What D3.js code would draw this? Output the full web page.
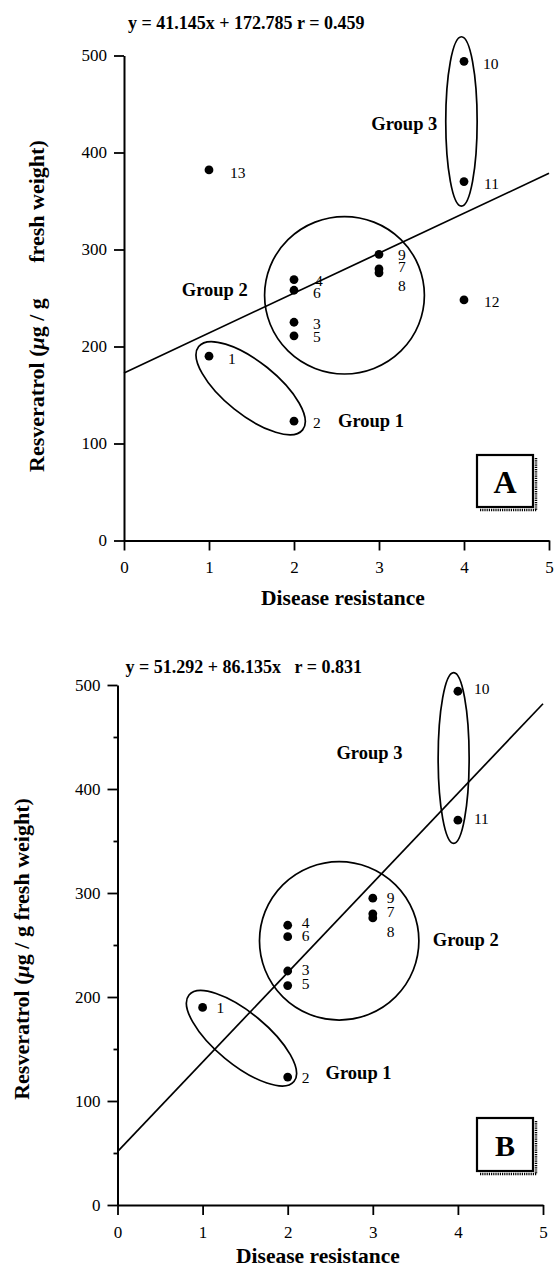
<!DOCTYPE html>
<html><head><meta charset="utf-8">
<script src="https://cdn.jsdelivr.net/npm/d3@7"></script>
<style>body{margin:0;background:#fff}</style>
</head><body>
<svg id="c" width="559" height="1268"></svg>
<script>
// ---- data ----
const cultivars   = [1,2,3,4,5,6,7,8,9,10,11,12,13];
const resistance  = [1,2,2,2,2,2,3,3,3,4,4,4,1];
const resveratrol = [190,123,225,269,211,258,280,276,295,494,370,248,382];
const cultivarsB  = [1,2,3,4,5,6,7,8,9,10,11];
const xTickValues = [0,1,2,3,4,5];
const yTickValues = [0,100,200,300,400,500];
const yMinorTicksB = [50,150,250,350,450];
const fitA = {slope:41.145, intercept:172.785};
const fitB = {slope:86.135, intercept:51.292};
const titleA = "y = 41.145x + 172.785 r = 0.459";
const titleB = "y = 51.292 + 86.135x   r = 0.831";
const groupNames = ["Group 1","Group 2","Group 3"];
const xTitle = "Disease resistance";

// ---- layout ----
const FONT = "'Liberation Serif','Times New Roman',serif";
const svg = d3.select("#c");

const panels = [
  {
    id:"A", members:cultivars, fit:fitA, title:titleA, titlePos:[128,23],
    x:d3.scaleLinear([0,5],[124,549]), y:d3.scaleLinear([0,500],[540.5,55.5]),
    minor:false, pad:10, xTitlePos:[343,598],
    yTitle:[{t:["Resveratrol (","μ","g / g"],cy:385},{t:["fresh weight)"],cy:201.5}], yTitleX:44,
    labelDx:19,
    labelDy:{1:2,2:1,3:1,4:1,5:1,6:2,7:-2,8:13,9:0,10:2,11:2,12:2,13:3},
    labelDxExtra:{4:2,11:1,12:1,13:2},
    ellipses:[
      {cx:1.49, cy:157, a:66.6, b:26.5, rot:38.7},
      {cx:2.594, cy:252.8, a:79.9, b:78.7, rot:0},
      {cx:3.97, cy:432, a:15.7, b:84.7, rot:0}
    ],
    groupLabels:[[2.906,123.5],[1.068,258.2],[3.298,429.4]],
    box:{x:477,y:455,w:56,h:52,fs:32}
  },
  {
    id:"B", members:cultivarsB, fit:fitB, title:titleB, titlePos:[125.5,667],
    x:d3.scaleLinear([0,5],[117.5,543]), y:d3.scaleLinear([0,500],[1205,685]),
    minor:true, pad:11, xTitlePos:[318,1256],
    yTitle:[{t:["Resveratrol (","μ","g / g fresh weight)"],cy:949}], yTitleX:29,
    labelDx:14,
    labelDy:{1:0,2:0,3:-2,4:-3,5:-2,6:-1,7:-2,8:14,9:-1,10:-3,11:-2},
    labelDxExtra:{10:2,11:2},
    ellipses:[
      {cx:1.457, cy:160.3, a:68, b:26, rot:39.5},
      {cx:2.605, cy:254, a:79.7, b:79.2, rot:0},
      {cx:3.95, cy:429.8, a:15.5, b:85.3, rot:0}
    ],
    groupLabels:[[2.833,126.6],[4.093,254.8],[2.961,434.9]],
    box:{x:477,y:1118,w:56,h:53,fs:30}
  }
];

panels.forEach(p => {
  const g = svg.append("g");
  const x = p.x, y = p.y;

  // axes
  g.append("g").attr("transform",`translate(${x(0)},0)`)
    .call(d3.axisLeft(y).tickValues(yTickValues).tickFormat(d3.format("d"))
      .tickSize(10).tickSizeOuter(0).tickPadding(7));
  g.append("g").attr("transform",`translate(0,${y(0)})`)
    .call(d3.axisBottom(x).tickValues(xTickValues).tickFormat(d3.format("d"))
      .tickSize(10).tickSizeOuter(0).tickPadding(p.pad));
  if (p.minor) {
    g.append("g").attr("transform",`translate(${x(0)},0)`)
      .call(d3.axisLeft(y).tickValues(yMinorTicksB).tickSize(4).tickFormat(""))
      .call(s=>s.select(".domain").remove());
  }
  g.selectAll(".domain").attr("stroke","#000").attr("stroke-width",2);
  g.selectAll(".tick line").attr("stroke","#000").attr("stroke-width",1.8);
  g.selectAll(".tick text").attr("font-family",FONT).attr("font-size",17).attr("fill","#000");

  // title
  g.append("text").attr("x",p.titlePos[0]).attr("y",p.titlePos[1])
    .attr("dominant-baseline","central").attr("font-family",FONT).attr("font-weight","bold")
    .attr("font-size",18).style("white-space","pre").attr("xml:space","preserve").text(p.title);

  // x title
  g.append("text").attr("x",p.xTitlePos[0]).attr("y",p.xTitlePos[1])
    .attr("text-anchor","middle").attr("dominant-baseline","central")
    .attr("font-family",FONT).attr("font-weight","bold").attr("font-size",21.5).text(xTitle);

  // y title
  p.yTitle.forEach(piece => {
    const t = g.append("text").attr("transform",`translate(${p.yTitleX},${piece.cy}) rotate(-90)`)
      .attr("text-anchor","middle").attr("font-family",FONT).attr("font-weight","bold").attr("font-size",22);
    piece.t.forEach(s => {
      const ts = t.append("tspan").text(s);
      if (s === "μ") ts.attr("font-style","italic");
    });
  });

  // regression line
  const line = d3.line().x(d=>x(d)).y(d=>y(p.fit.intercept + p.fit.slope*d));
  g.append("path").datum([0,5]).attr("d",line).attr("fill","none")
    .attr("stroke","#000").attr("stroke-width",1.7);

  // group ellipses
  p.ellipses.forEach(e => {
    g.append("ellipse").attr("cx",0).attr("cy",0).attr("rx",e.a).attr("ry",e.b)
      .attr("transform",`translate(${x(e.cx)},${y(e.cy)}) rotate(${e.rot})`)
      .attr("fill","none").attr("stroke","#000").attr("stroke-width",1.7);
  });

  // group labels
  p.groupLabels.forEach((gl,i) => {
    g.append("text").attr("x",x(gl[0])).attr("y",y(gl[1]))
      .attr("text-anchor","middle").attr("dominant-baseline","central")
      .attr("font-family",FONT).attr("font-weight","bold").attr("font-size",18.5).text(groupNames[i]);
  });

  // points
  const pts = p.members.map(c => ({c, rx:resistance[c-1], v:resveratrol[c-1]}));
  g.selectAll("circle.pt").data(pts).join("circle").attr("class","pt")
    .attr("cx",d=>x(d.rx)).attr("cy",d=>y(d.v)).attr("r",4.4).attr("fill","#000");
  g.selectAll("text.lab").data(pts).join("text").attr("class","lab")
    .attr("x",d=>x(d.rx)+p.labelDx+(p.labelDxExtra[d.c]||0))
    .attr("y",d=>y(d.v)+(p.labelDy[d.c]||0))
    .attr("dominant-baseline","central").attr("font-family",FONT).attr("font-size",15.5)
    .text(d=>d.c);

  // panel letter box
  const b = p.box;
  g.append("line").attr("x1",b.x+b.w+3).attr("y1",b.y+3).attr("x2",b.x+b.w+3).attr("y2",b.y+b.h+3)
    .attr("stroke","#000").attr("stroke-width",2.5).attr("stroke-dasharray","1.2,1");
  g.append("line").attr("x1",b.x+3).attr("y1",b.y+b.h+3).attr("x2",b.x+b.w+4).attr("y2",b.y+b.h+3)
    .attr("stroke","#000").attr("stroke-width",2.5).attr("stroke-dasharray","1.2,1");
  g.append("rect").attr("x",b.x).attr("y",b.y).attr("width",b.w).attr("height",b.h)
    .attr("fill","#fff").attr("stroke","#000").attr("stroke-width",2.2);
  g.append("text").attr("x",b.x+b.w/2).attr("y",b.y+b.h/2+1)
    .attr("text-anchor","middle").attr("dominant-baseline","central")
    .attr("font-family",FONT).attr("font-weight","bold").attr("font-size",b.fs).text(p.id);
});
</script>
</body></html>
